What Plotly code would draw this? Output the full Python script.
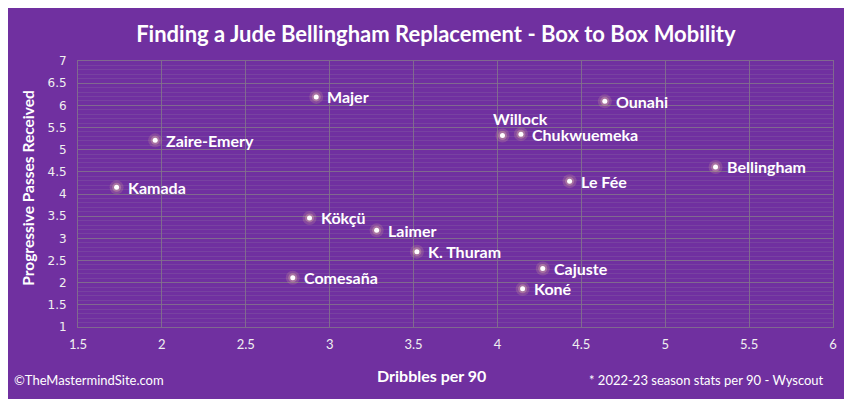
import plotly.graph_objects as go

players = ["Majer", "Zaire-Emery", "Kamada", "Ounahi", "Willock", "Chukwuemeka",
           "Bellingham", "Le Fée", "Kökçü", "Laimer", "K. Thuram", "Cajuste",
           "Koné", "Comesaña"]
dribbles = [2.92, 1.96, 1.73, 4.64, 4.03, 4.14, 5.30, 4.43, 2.88, 3.28, 3.52, 4.27, 4.15, 2.78]
prog_passes = [6.19, 5.21, 4.15, 6.09, 5.32, 5.35, 4.61, 4.29, 3.46, 3.18, 2.70, 2.32, 1.86, 2.11]

BG = "#7030A0"
GRID = "rgba(130,115,140,0.85)"
MINOR = "rgba(140,110,165,0.3)"
FONT = "Lato"

fig = go.Figure()
fig.add_trace(go.Scatter(x=dribbles, y=prog_passes, mode="markers",
                         marker=dict(size=14, color="rgba(225,175,150,0.2)", line=dict(width=0)),
                         hoverinfo="skip", showlegend=False))
fig.add_trace(go.Scatter(x=dribbles, y=prog_passes, mode="markers",
                         marker=dict(size=9, color="rgba(235,195,165,0.32)", line=dict(width=0)),
                         hoverinfo="skip", showlegend=False))
fig.add_trace(go.Scatter(x=dribbles, y=prog_passes, mode="markers",
                         marker=dict(size=5, color="white", line=dict(width=0)),
                         text=players, showlegend=False))

for name, xv, yv in zip(players, dribbles, prog_passes):
    if name == "Willock":
        fig.add_annotation(x=xv, y=yv, text=name, showarrow=False, xanchor="center",
                           yanchor="bottom", xshift=18, yshift=5,
                           font=dict(family=FONT, size=16, color="white", weight="bold"))
    else:
        fig.add_annotation(x=xv, y=yv, text=name, showarrow=False, xanchor="left",
                           yanchor="middle", xshift=9,
                           font=dict(family=FONT, size=16, color="white", weight="bold"))

fig.add_annotation(xref="paper", yref="paper", x=-0.0874, y=-0.2, text="©TheMastermindSite.com",
                   showarrow=False, xanchor="left", yanchor="middle",
                   font=dict(family=FONT, size=13, color="white"))
fig.add_annotation(xref="paper", yref="paper", x=0.991, y=-0.2,
                   text="* 2022-23 season stats per 90 - Wyscout",
                   showarrow=False, xanchor="right", yanchor="middle",
                   font=dict(family=FONT, size=13, color="white"))
fig.add_annotation(xref="paper", yref="paper", x=0.468, y=-0.182, text="<b>Dribbles per 90</b>",
                   showarrow=False, xanchor="center", yanchor="middle",
                   font=dict(family=FONT, size=16, color="white"))
fig.add_annotation(xref="paper", yref="paper", x=-0.0655, y=0.522,
                   text="<b>Progressive Passes Received</b>", textangle=-90,
                   showarrow=False, xanchor="center", yanchor="middle",
                   font=dict(family=FONT, size=15.5, color="white"))

fig.update_layout(
    width=844, height=391,
    paper_bgcolor=BG, plot_bgcolor=BG,
    margin=dict(l=70, r=19, t=53, b=72, autoexpand=False),
    title=dict(text="<b>Finding a Jude Bellingham Replacement - Box to Box Mobility</b>",
               x=0.507, xanchor="center", y=0.933, yanchor="middle",
               font=dict(family=FONT, size=22, color="white")),
    xaxis=dict(range=[1.5, 6], dtick=0.5, tick0=1.5, showgrid=True, gridcolor=GRID, gridwidth=1,
               zeroline=False, showline=True, linecolor=GRID, mirror=True, ticks="",
               automargin=False, ticklabelstandoff=5,
               tickfont=dict(family=FONT, size=13, color="#f0f0f0")),
    yaxis=dict(range=[1, 7], dtick=0.5, tick0=1, showgrid=True, gridcolor=GRID, gridwidth=1,
               minor=dict(dtick=0.1, showgrid=True, gridcolor=MINOR, gridwidth=1),
               zeroline=False, showline=True, linecolor=GRID, mirror=True, ticks="",
               automargin=False, ticklabelstandoff=8,
               tickfont=dict(family="DejaVu Sans", size=12, color="#f0f0f0")),
)

fig.write_html("out.html")
